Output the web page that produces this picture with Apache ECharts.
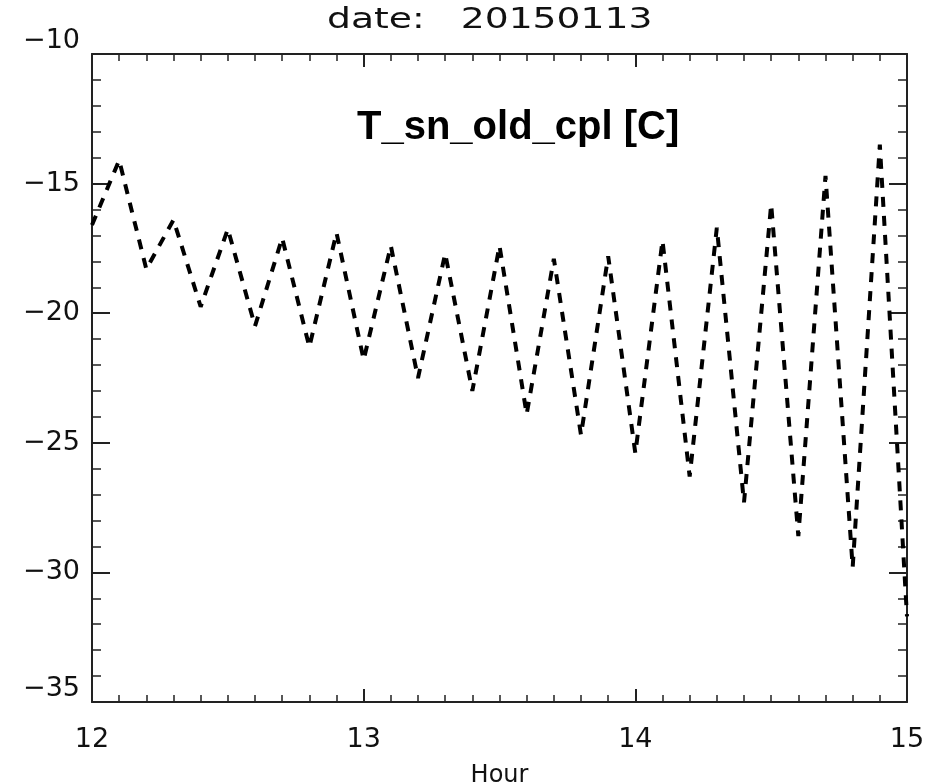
<!DOCTYPE html>
<html>
<head>
<meta charset="utf-8">
<script src="https://cdn.jsdelivr.net/npm/echarts@6/dist/echarts.min.js"></script>
<style>html,body{margin:0;padding:0;background:#fff}#c{width:943px;height:784px}</style>
</head>
<body>
<div id="c"></div>
<script>
var hours = [12.0,12.1,12.2,12.3,12.4,12.5,12.6,12.7,12.8,12.9,13.0,13.1,13.2,13.3,13.4,13.5,13.6,13.7,13.8,13.9,14.0,14.1,14.2,14.3,14.4,14.5,14.6,14.7,14.8,14.9,15.0];
var tsn = [-16.6,-14.1,-18.3,-16.4,-19.75,-16.75,-20.5,-17.1,-21.3,-16.9,-21.8,-17.4,-22.5,-17.7,-23.0,-17.4,-23.9,-17.9,-24.7,-17.8,-25.4,-17.2,-26.3,-16.7,-27.3,-15.8,-28.6,-14.7,-29.8,-13.5,-31.7];
var titleText = 'date:   20150113';
var seriesLabel = 'T_sn_old_cpl [C]';
var xName = 'Hour';

var chart = echarts.init(document.getElementById('c'));
var font = 'DejaVu Sans';
var axisLineStyle = {color: '#222', width: 2};
function xAx(pos, showLabel) {
  return {
    type: 'value', position: pos, min: 12, max: 15, interval: 1,
    name: pos === 'bottom' ? xName : '', nameLocation: 'middle', nameGap: 62,
    nameTextStyle: {fontFamily: font, fontSize: 24, color: '#111'},
    axisLine: {show: true, onZero: false, lineStyle: axisLineStyle},
    axisTick: {show: true, inside: true, length: 13, lineStyle: axisLineStyle},
    minorTick: {show: true, splitNumber: 10, length: 7, lineStyle: {color: '#222', width: 1.5}},
    axisLabel: {show: showLabel, margin: 24, fontFamily: font, fontSize: 27, color: '#111'},
    splitLine: {show: false}
  };
}
function yAx(pos, showLabel) {
  return {
    type: 'value', position: pos, min: -35, max: -10, interval: 5,
    axisLine: {show: true, onZero: false, lineStyle: axisLineStyle},
    axisTick: {show: true, inside: true, length: 18, lineStyle: axisLineStyle},
    minorTick: {show: true, splitNumber: 5, length: 9, lineStyle: {color: '#222', width: 1.5}},
    axisLabel: {show: showLabel, margin: 12, fontFamily: font, fontSize: 27, color: '#111',
      formatter: function (v) { return String(v).replace('-', '\u2212'); },
      verticalAlignMaxLabel: 'bottom', verticalAlignMinLabel: 'bottom'},
    splitLine: {show: false}
  };
}
chart.setOption({
  animation: false,
  backgroundColor: '#fff',
  grid: {left: 92, right: 36, top: 54, bottom: 82, outerBoundsMode: 'none', containLabel: false},
  xAxis: [xAx('bottom', true), xAx('top', false)],
  yAxis: [yAx('left', true), yAx('right', false)],
  graphic: [
    {type: 'text', left: 327, top: 6, scaleX: 1.3, style: {text: titleText, font: '29px "DejaVu Sans"', fill: '#111'}},
    {type: 'text', left: 357, top: 108, style: {text: seriesLabel, font: 'bold 40px "Liberation Sans"', fill: '#000'}}
  ],
  series: [{
    type: 'line', xAxisIndex: 0, yAxisIndex: 0,
    data: hours.map(function (h, i) { return [h, tsn[i]]; }),
    showSymbol: false,
    lineStyle: {color: '#000', width: 4, type: [10, 9]}
  }]
});
</script>
</body>
</html>
